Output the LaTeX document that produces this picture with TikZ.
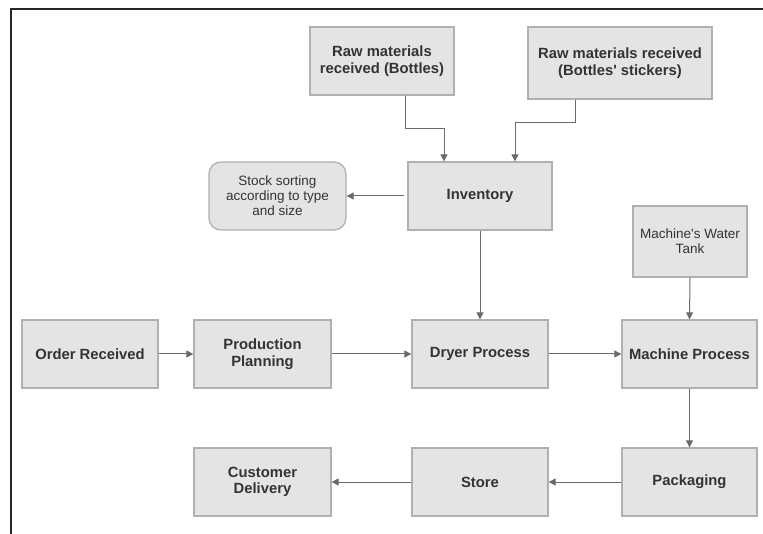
\documentclass[tikz,border=0pt]{standalone}
\usepackage{fontspec}
\setmainfont{Liberation Sans}
\usetikzlibrary{arrows.meta,calc}
\definecolor{boxfill}{HTML}{E4E4E4}
\definecolor{boxline}{HTML}{B0B0B0}
\definecolor{txt}{HTML}{333333}
\definecolor{arrcol}{HTML}{6A6A6A}
\tikzset{
  procbox/.style={draw=boxline, fill=boxfill, line width=1.3pt, align=center,
    inner sep=2pt, text=txt, font=\fontsize{14.8}{16.5}\selectfont\bfseries},
  notebox/.style={procbox, font=\fontsize{13.5}{15}\selectfont},
  arr/.style={draw=arrcol, line width=1pt, -{Triangle[length=7pt,width=7pt]}},
  frameline/.style={draw=black!85, line width=1.3pt}
}
\begin{document}
\begin{tikzpicture}[x=1pt,y=-1pt]
\useasboundingbox (0,0) rectangle (763,534);
\fill[white] (0,0) rectangle (763,534);
\coordinate (fa) at (11,534);
\coordinate (fb) at (11,9);
\coordinate (fc) at (763,9);
\draw[frameline] (fa) -- (fb) -- (fc);

\node[procbox, minimum width=144pt, minimum height=68pt] (raw1) at (382,61) {Raw materials\\received (Bottles)};
\node[procbox, minimum width=184pt, minimum height=72pt] (raw2) at (620,63) {Raw materials received\\(Bottles\textquotesingle{} stickers)};
\node[procbox, minimum width=144pt, minimum height=68pt] (inv) at (480,196) {Inventory};
\node[notebox, rounded corners=12pt, minimum width=137pt, minimum height=68pt] (stock) at (277.5,196) {Stock sorting\\according to type\\and size};
\node[notebox, minimum width=114pt, minimum height=71pt] (tank) at (690,241.5) {Machine\textquotesingle{}s Water\\Tank};
\node[procbox, minimum width=136pt, minimum height=68pt] (order) at (90,354) {Order Received};
\node[procbox, minimum width=137pt, minimum height=68pt] (plan) at (262.5,354) {Production\\Planning};
\node[procbox, minimum width=136pt, minimum height=68pt] (dryer) at (480,354) {Dryer Process};
\node[procbox, minimum width=135pt, minimum height=68pt] (mach) at (689.5,354) {Machine Process};
\node[procbox, minimum width=135pt, minimum height=68pt] (pack) at (689.5,482) {Packaging};
\node[procbox, minimum width=136pt, minimum height=68pt] (store) at (480,482) {Store};
\node[procbox, minimum width=137pt, minimum height=68pt] (cust) at (262.5,482) {Customer\\Delivery};

\draw[arr] ([xshift=23pt]raw1.south) -- ++(0,33) -| ([xshift=-36pt]inv.north);
\draw[arr] ([xshift=-45pt]raw2.south) -- ++(0,23) -| ([xshift=35pt]inv.north);
\draw[arr] ([xshift=-3pt]inv.west) -- (stock.east);
\draw[arr] (inv.south) -- (dryer.north);
\draw[arr] (tank.south) -- (mach.north);
\draw[arr] (order.east) -- (plan.west);
\draw[arr] (plan.east) -- (dryer.west);
\draw[arr] (dryer.east) -- (mach.west);
\draw[arr] (mach.south) -- (pack.north);
\draw[arr] (pack.west) -- (store.east);
\draw[arr] (store.west) -- (cust.east);
\end{tikzpicture}
\end{document}
